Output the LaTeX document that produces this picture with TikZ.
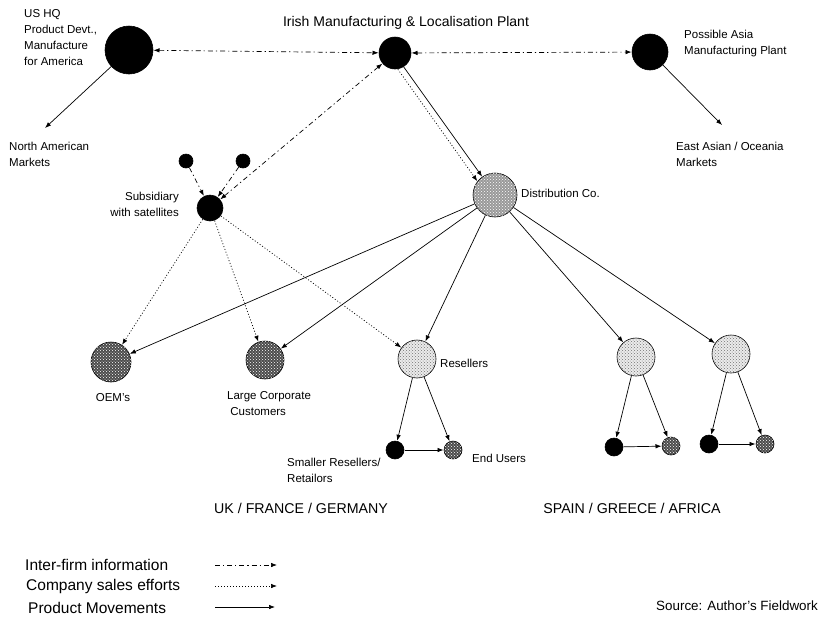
\documentclass[tikz,border=0pt]{standalone}
\usepackage{fontspec}
\setmainfont{Liberation Sans}
\usepackage{tikz}
\usetikzlibrary{arrows.meta, patterns, positioning}
\tikzset{
  >=latex,
  % sites (circles)
  site/.style={circle,draw=black,line width=0.6pt,inner sep=0,outer sep=0.5},
  site black/.style={site,fill=black},
  site dense/.style={site,fill=black!70,postaction={pattern=crosshatch dots,pattern color=white}},
  site dist/.style={site,fill=black!40,postaction={pattern=crosshatch dots,pattern color=white}},
  site light/.style={site,fill=black!8,postaction={pattern=crosshatch dots,pattern color=black!55}},
  % labels
  lbl/.style={font=\fontsize{11.5}{16}\selectfont,align=left,inner sep=0},
  big lbl/.style={font=\fontsize{14.2}{17}\selectfont,inner sep=0},
  legend lbl/.style={font=\fontsize{15.5}{18}\selectfont,inner sep=0,anchor=west},
  % connections
  info arrow/.style={-{Latex[length=6,width=4.5]},line width=0.7pt,dash pattern=on 5pt off 3pt on 1.2pt off 3pt},
  info both/.style={info arrow,{Latex[length=6,width=4.5]}-{Latex[length=6,width=4.5]}},
  sales arrow/.style={-{Latex[length=6,width=4.5]},line width=0.7pt,dash pattern=on 1pt off 2pt},
  product arrow/.style={-{Latex[length=6,width=4.5]},line width=0.7pt}
}
\begin{document}
\begin{tikzpicture}[x=1pt,y=-1pt]
  \useasboundingbox (0,0) rectangle (824,625);
  % plants
  \node[site black,minimum size=48] (hq) at (129,50) {};
  \node[site black,minimum size=32] (irish) at (395,53) {};
  \node[site black,minimum size=36] (asia) at (650,52) {};
  \node[lbl,anchor=west] (hq lbl) at (24,38) {US HQ\\Product Devt.,\\Manufacture\\for America};
  \node[big lbl,font=\fontsize{14}{16}\selectfont] (irish lbl) at (406,23) {Irish Manufacturing \& Localisation Plant};
  \node[lbl,anchor=west] (asia lbl) at (684,44) {Possible Asia\\Manufacturing Plant};
  \node[lbl,anchor=west] (nam) at (9,154) {North American\\Markets};
  \node[lbl,anchor=west] (eam) at (676,154) {East Asian / Oceania\\Markets};
  \coordinate (nam tip) at (45,128);
  \coordinate (eam tip) at (722,125);
  \draw[info both] (hq) -- (irish);
  \draw[info both] (irish) -- (asia);
  \draw[product arrow] (hq) -- (nam tip);
  \draw[product arrow] (asia) -- (eam tip);

  % distribution and subsidiary
  \node[site dist,minimum size=44] (dist) at (495,195) {};
  \node[lbl,anchor=west] (dist lbl) at (521,193) {Distribution Co.};
  \node[site black,minimum size=26] (sub) at (210,208) {};
  \node[site black,minimum size=14] (sat1) at (186,161) {};
  \node[site black,minimum size=14] (sat2) at (243,161) {};
  \node[lbl,align=right,anchor=east] (sub lbl) at (179,204) {Subsidiary\\with satellites};
  \draw[product arrow] (irish.-58) -- (dist.125);
  \draw[sales arrow] (irish.-80) -- (dist.142);
  \draw[info arrow] (sat1) -- (sub);
  \draw[info arrow] (sat2) -- (sub);
  \draw[info both] (sub) -- (irish);

  % UK / France / Germany
  \node[site dense,minimum size=40] (oem) at (111,362) {};
  \node[site dense,minimum size=38] (corp) at (265,360) {};
  \node[site light,minimum size=38] (res) at (417,359) {};
  \node[lbl] (oem lbl) at (113,398) {OEM's};
  \node[lbl,anchor=west] (corp lbl) at (227,404) {Large Corporate\\\ Customers};
  \node[lbl,anchor=west] (res lbl) at (440,363) {Resellers};
  \node[site black,minimum size=18] (small) at (395,450) {};
  \node[site dense,minimum size=18] (end) at (453,450) {};
  \node[lbl,anchor=west] (small lbl) at (287,470) {Smaller Resellers/\\Retailors};
  \node[lbl,anchor=west] (end lbl) at (472,458) {End Users};
  \draw[product arrow] (dist) -- (oem);
  \draw[product arrow] (dist) -- (corp);
  \draw[product arrow] (dist) -- (res);
  \draw[sales arrow] (sub) -- (oem);
  \draw[sales arrow] (sub) -- (corp);
  \draw[sales arrow] (sub) -- (res);
  \draw[product arrow] (res) -- (small);
  \draw[product arrow] (res) -- (end);
  \draw[product arrow] (small) -- (end);

  % Spain / Greece / Africa
  \node[site light,minimum size=38] (sp1) at (636,357) {};
  \node[site light,minimum size=38] (sp2) at (731,354) {};
  \node[site black,minimum size=18] (sp1 small) at (614,447) {};
  \node[site dense,minimum size=18] (sp1 end) at (671,446) {};
  \node[site black,minimum size=18] (sp2 small) at (709,444) {};
  \node[site dense,minimum size=18] (sp2 end) at (765,444) {};
  \draw[product arrow] (dist) -- (sp1);
  \draw[product arrow] (dist) -- (sp2);
  \draw[product arrow] (sp1) -- (sp1 small);
  \draw[product arrow] (sp1) -- (sp1 end);
  \draw[product arrow] (sp1 small) -- (sp1 end);
  \draw[product arrow] (sp2) -- (sp2 small);
  \draw[product arrow] (sp2) -- (sp2 end);
  \draw[product arrow] (sp2 small) -- (sp2 end);

  % regions
  \node[big lbl] (uk) at (301,508) {UK / FRANCE / GERMANY};
  \node[big lbl] (spain) at (632,508) {SPAIN / GREECE / AFRICA};

  % legend
  \node[legend lbl] (lg info) at (25,565) {Inter-firm information};
  \node[legend lbl] (lg sales) at (26,586) {Company sales efforts};
  \node[legend lbl] (lg prod) at (28,608) {Product Movements};
  \coordinate (lg info a) at (215,565);
  \coordinate (lg info b) at (277,565);
  \coordinate (lg sales a) at (215,586);
  \coordinate (lg sales b) at (277,586);
  \coordinate (lg prod a) at (215,607);
  \coordinate (lg prod b) at (275,607);
  \draw[info arrow] (lg info a) -- (lg info b);
  \draw[sales arrow] (lg sales a) -- (lg sales b);
  \draw[product arrow] (lg prod a) -- (lg prod b);
  \node[lbl,font=\fontsize{13.4}{16}\selectfont] (source) at (737,606) {Source: Author's Fieldwork};
\end{tikzpicture}
\end{document}
